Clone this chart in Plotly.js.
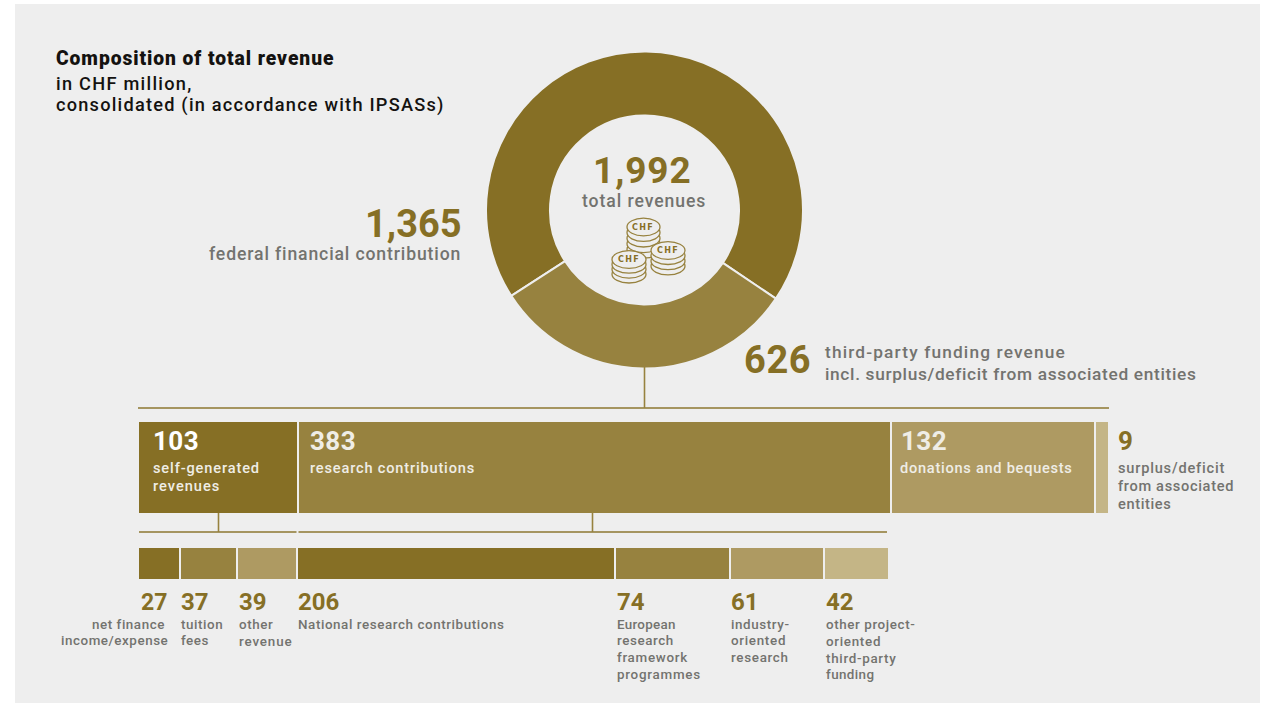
<!DOCTYPE html>
<html>
<head>
<meta charset="utf-8">
<script src="https://cdn.plot.ly/plotly-3.0.1.min.js"></script>
<style>
html,body{margin:0;padding:0;background:#fff;}
#chart{width:1266px;height:703px;}
</style>
</head>
<body>
<div id="chart"></div>
<script>
// Revenue figures, CHF million
const totalRevenue = 1992;
const donutLabels = ['federal financial contribution', 'third-party funding revenue'];
const donutValues = [1365, 626];

const upperLabels = ['self-generated revenues', 'research contributions', 'donations and bequests', 'surplus/deficit from associated entities'];
const upperValues = [103, 383, 132, 9];

const lowerLabels = ['net finance income/expense', 'tuition fees', 'other revenue', 'National research contributions',
  'European research framework programmes', 'industry-oriented research', 'other project-oriented third-party funding'];
const lowerValues = [27, 37, 39, 206, 74, 61, 42];

// Palette
const PANEL = '#EEEEEE', DARK = '#866F25', MID = '#97823F', LIGHT = '#AE9A62', PALE = '#C4B586';
const GREY = '#73736F', INK = '#141210', ONBAR = '#EFEDE6', RULE = '#8C7730';
const upperColors = [DARK, MID, LIGHT, PALE];
const lowerColors = [DARK, MID, LIGHT, DARK, MID, LIGHT, PALE];

const W = 1266, H = 703;
const FONT = 'Roboto, sans-serif';
const px = x => x / W;
const py = y => 1 - y / H;
const sum = a => a.reduce((s, v) => s + v, 0);

const traces = [];

traces.push({
  type: 'pie', labels: donutLabels, values: donutValues, sort: false, direction: 'clockwise',
  rotation: 237.2, hole: 0.596, textinfo: 'none', hoverinfo: 'label+value', showlegend: false,
  marker: {colors: [DARK, MID], line: {color: PANEL, width: 2}},
  domain: {x: [px(486), px(803)], y: [py(368.5), py(51.5)]}
});

// Each bar row has its own vertical band and horizontal scale
upperValues.forEach((v, i) => traces.push({
  type: 'bar', orientation: 'h', x: [v], y: ['upper'], name: upperLabels[i], xaxis: 'x', yaxis: 'y',
  showlegend: false, marker: {color: upperColors[i], line: {color: PANEL, width: 2}}
}));
lowerValues.forEach((v, i) => traces.push({
  type: 'bar', orientation: 'h', x: [v], y: ['lower'], name: lowerLabels[i], xaxis: 'x2', yaxis: 'y2',
  showlegend: false, marker: {color: lowerColors[i], line: {color: PANEL, width: 2}}
}));

// Text helpers: one annotation per line so leading follows the layout.
// The tracking argument opens up the letterfit in pixels.
const annotations = [];
function put(str, x, y, size, color, weight, anchor, tracking) {
  const a = anchor || 'left';
  const nudge = a === 'left' ? -1 : a === 'right' ? 1 : 0;
  const body = tracking ? '<span style="letter-spacing:' + tracking + 'px">' + str + '</span>' : str;
  annotations.push({
    xref: 'paper', yref: 'paper', x: px(x + nudge), y: py(y), text: body, showarrow: false,
    xanchor: a, yanchor: 'middle', borderpad: 0, align: a,
    font: {family: FONT, size: size, color: color, weight: weight || 500}
  });
}
const fmt = v => v.toLocaleString('en-US');
const small = (t, x, y, track) => put(t, x, y, 13.4, GREY, 500, 'left', track === undefined ? 0.6 : track);
const onBar = (t, x, y, track) => put(t, x, y, 14.6, ONBAR, 500, 'left', track === undefined ? 0.8 : track);

// Heading
put('Composition of total revenue', 56, 58.5, 19.3, INK, 900, 'left', 0.93);
put('in CHF million,', 56, 83, 18.2, INK, 500, 'left', 1.27);
put('consolidated (in accordance with IPSASs)', 56, 105, 18.2, INK, 500, 'left', 1.22);

// Donut callouts
put(fmt(totalRevenue), 642, 170.5, 37, DARK, 700, 'center', 0.9);
put('total revenues', 644, 201, 17.6, GREY, 500, 'center', 0.93);
put(fmt(donutValues[0]), 462, 224, 38, DARK, 700, 'right');
put('federal financial contribution', 461, 254, 17.6, GREY, 500, 'right', 0.87);
put(fmt(donutValues[1]), 744, 360, 38, DARK, 700, 'left', 0.6);
put('third-party funding revenue', 825, 352, 17.3, GREY, 500, 'left', 1.15);
put('incl. surplus/deficit from associated entities', 825, 374, 17.3, GREY, 500, 'left', 0.67);

// Upper row labels
put(fmt(upperValues[0]), 153, 441, 26, '#FFFFFF', 700, 'left', 0.4);
onBar('self-generated', 153, 468, 0.86);
onBar('revenues', 153, 486, 1);
put(fmt(upperValues[1]), 310, 441, 26, ONBAR, 700, 'left', 0.4);
onBar('research contributions', 310, 468, 0.82);
put(fmt(upperValues[2]), 901, 441, 26, ONBAR, 700, 'left', 0.4);
onBar('donations and bequests', 900, 468, 0.73);
put(fmt(upperValues[3]), 1118, 441, 26, DARK, 700);
put('surplus/deficit', 1118, 468, 14.6, GREY, 500, 'left', 0.8);
put('from associated', 1118, 486, 14.6, GREY, 500, 'left', 0.67);
put('entities', 1118, 504, 14.6, GREY, 500, 'left', 0.62);

// Lower row labels
put(fmt(lowerValues[0]), 166.5, 602, 23, DARK, 700, 'right');
put('net finance', 164.5, 624, 13.4, GREY, 500, 'right', 0.55);
put('income/expense', 168, 640, 13.4, GREY, 500, 'right', 0.55);
put(fmt(lowerValues[1]), 181, 602, 24, DARK, 700);
small('tuition', 181, 624, 0.57);
small('fees', 181, 640, 0.5);
put(fmt(lowerValues[2]), 239, 602, 24, DARK, 700);
small('other', 239, 624);
small('revenue', 239, 641, 0.85);
put(fmt(lowerValues[3]), 298, 602, 24, DARK, 700);
small('National research contributions', 298, 624, 0.58);
put(fmt(lowerValues[4]), 617, 602, 24, DARK, 700);
[['European', 0.3], ['research', 0.6], ['framework', 0.7], ['programmes', 0.75]]
  .forEach(([t, k], i) => small(t, 617, [624, 640, 657, 674][i], k));
put(fmt(lowerValues[5]), 731, 602, 24, DARK, 700);
[['industry-', 0.6], ['oriented', 0.7], ['research', 0.7]]
  .forEach(([t, k], i) => small(t, 731, [624, 640, 657][i], k));
put(fmt(lowerValues[6]), 826, 602, 24, DARK, 700);
[['other project-', 0.6], ['oriented', 0.7], ['third-party', 0.7], ['funding', 0.4]]
  .forEach(([t, k], i) => small(t, 826, [624, 641, 658, 674][i], k));

// Panel, bracket rules and leader lines
const shapes = [{
  type: 'rect', xref: 'paper', yref: 'paper', layer: 'below',
  x0: px(15), x1: px(1260), y0: py(703), y1: py(4), fillcolor: PANEL, line: {width: 0}
}];
function rule(x0, y0, x1, y1, color) {
  shapes.push({type: 'line', xref: 'paper', yref: 'paper', x0: px(x0), y0: py(y0), x1: px(x1), y1: py(y1),
    line: {color: color || RULE, width: 1.6}});
}
rule(138, 408, 1109, 408);
rule(644.5, 367, 644.5, 408, MID);
rule(139, 532, 296.5, 532);
rule(298.5, 532, 887, 532);
rule(218.5, 513, 218.5, 532, MID);
rule(592.5, 513, 592.5, 532, MID);

// Coin stacks below the total
function coinStack(cx, topY, rx, ry, layers, step) {
  for (let i = layers - 1; i >= 0; i--) {
    const cy = topY + i * step;
    shapes.push({type: 'circle', xref: 'paper', yref: 'paper',
      x0: px(cx - rx), x1: px(cx + rx), y0: py(cy + ry), y1: py(cy - ry),
      fillcolor: PANEL, line: {color: MID, width: 1.3}});
  }
  annotations.push({xref: 'paper', yref: 'paper', x: px(cx), y: py(topY), showarrow: false,
    text: '<span style="letter-spacing:1.3px">CHF</span>',
    xanchor: 'center', yanchor: 'middle', borderpad: 0,
    font: {family: '"DejaVu Sans", sans-serif', size: 8, color: DARK, weight: 700}});
}
coinStack(643.5, 227, 16.5, 8.8, 5, 5.6);
coinStack(629, 259.5, 17, 8.8, 4, 4.9);
coinStack(668, 250.5, 17, 8.8, 4, 5.2);

const layout = {
  width: W, height: H, margin: {l: 0, r: 0, t: 0, b: 0},
  paper_bgcolor: '#FFFFFF', plot_bgcolor: 'rgba(0,0,0,0)',
  showlegend: false, barmode: 'stack', bargap: 0,
  xaxis: {domain: [px(138), px(1109)], range: [0, sum(upperValues)], visible: false, fixedrange: true, anchor: 'y'},
  xaxis2: {domain: [px(138), px(889)], range: [0, sum(lowerValues)], visible: false, fixedrange: true, anchor: 'y2'},
  yaxis: {domain: [py(514), py(421)], visible: false, fixedrange: true, anchor: 'x'},
  yaxis2: {domain: [py(580), py(547)], visible: false, fixedrange: true, anchor: 'x2'},
  shapes, annotations
};

Plotly.newPlot('chart', traces, layout, {displayModeBar: false, responsive: false});
</script>
</body>
</html>
